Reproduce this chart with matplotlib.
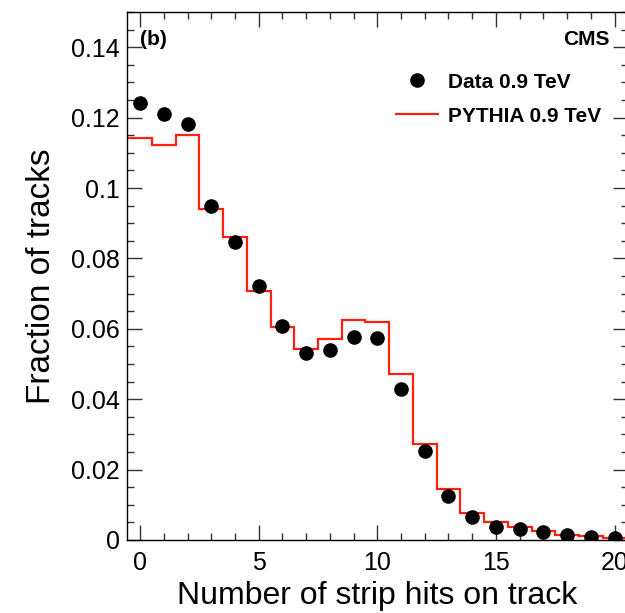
import matplotlib.pyplot as plt
from matplotlib.ticker import MultipleLocator, FormatStrFormatter

plt.rcParams['font.family'] = ['Liberation Sans', 'DejaVu Sans']

# strip hits per track
hits = list(range(21))
data_frac = [0.1241, 0.1210, 0.1182, 0.0948, 0.0848, 0.0721, 0.0607, 0.0531,
             0.0539, 0.0577, 0.0573, 0.0430, 0.0253, 0.0126, 0.0064, 0.0038,
             0.0030, 0.0024, 0.0014, 0.0008, 0.0005]
pythia_frac = [0.1142, 0.1123, 0.1152, 0.0939, 0.0860, 0.0707, 0.0605, 0.0544,
               0.0570, 0.0626, 0.0619, 0.0471, 0.0274, 0.0144, 0.0077, 0.0050,
               0.0038, 0.0026, 0.0015, 0.0010, 0.0005]

fig = plt.figure(figsize=(6.25, 6.13), dpi=100)
ax = fig.add_axes([0.2032, 0.1191, 0.801, 0.8613])

# histogram edges at k +/- 0.5
edges = [h - 0.5 for h in hits] + [hits[-1] + 0.5]
ax.stairs(pythia_frac, edges, baseline=None, color='#ff2010', lw=1.6,
          label='PYTHIA 0.9 TeV')
ax.plot(hits, data_frac, 'o', color='black', ms=9.5, label='Data 0.9 TeV')

ax.set_xlim(-0.55, 20.55)
ax.set_ylim(0, 0.15)

ax.xaxis.set_major_locator(MultipleLocator(5))
ax.xaxis.set_minor_locator(MultipleLocator(1))
ax.yaxis.set_major_locator(MultipleLocator(0.02))
ax.yaxis.set_minor_locator(MultipleLocator(0.005))
ax.yaxis.set_major_formatter(FormatStrFormatter('%g'))

ax.tick_params(which='both', direction='in', top=True, right=True,
               color='#333333', labelsize=18, width=1)
ax.tick_params(which='major', length=11, pad=5)
ax.tick_params(which='minor', length=5)
ax.tick_params(axis='x', pad=8)
for s in ax.spines.values():
    s.set_linewidth(1)

ax.set_xlabel('Number of strip hits on track', fontsize=23, labelpad=4)
ax.set_ylabel('Fraction of tracks', fontsize=24, labelpad=10)

ax.text(0.025, 0.965, '(b)', transform=ax.transAxes, fontsize=15,
        fontweight='bold', va='top', ha='left')
ax.text(0.965, 0.965, 'CMS', transform=ax.transAxes, fontsize=15,
        fontweight='bold', va='top', ha='right')

handles, labels = ax.get_legend_handles_labels()
leg = ax.legend(handles[::-1], labels[::-1], loc='upper left',
                bbox_to_anchor=(0.517, 0.905), frameon=False,
                prop={'size': 15, 'weight': 'bold'}, handlelength=2.0,
                handletextpad=0.5, labelspacing=0.72, borderpad=0)

fig.savefig('out.png', dpi=100)
